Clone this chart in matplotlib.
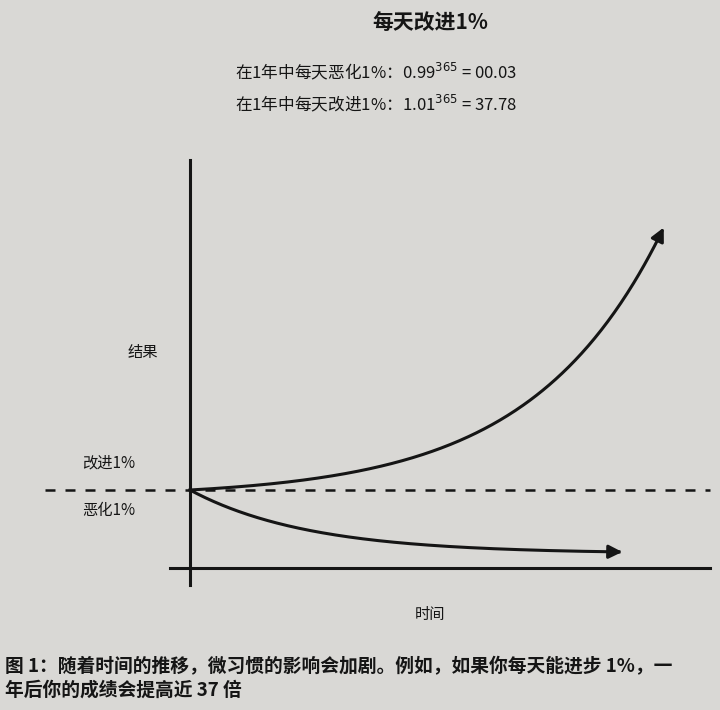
import numpy as np
import matplotlib
matplotlib.use("Agg")
import matplotlib.pyplot as plt

plt.rcParams['font.family'] = ['Noto Sans CJK SC', 'DejaVu Sans']

# 数据
days = np.arange(0, 366)
improve_rate = 1.01
decline_rate = 0.99
improve = improve_rate ** days   # 365天后 37.78
decline = decline_rate ** days   # 365天后 0.03

title = "每天改进1%"
line1 = "在1年中每天恶化1%：0.99$^{365}$ = 00.03"
line2 = "在1年中每天改进1%：1.01$^{365}$ = 37.78"
caption1 = "图 1：随着时间的推移，微习惯的影响会加剧。例如，如果你每天能进步 1%，一"
caption2 = "年后你的成绩会提高近 37 倍"

W, H = 720, 710
bg = "#d9d8d5"
ink = "#151515"
fig = plt.figure(figsize=(W / 100, H / 100), dpi=100, facecolor=bg)

# 底层：像素坐标，用于坐标轴线和文字
base = fig.add_axes([0, 0, 1, 1])
base.set_xlim(0, W)
base.set_ylim(H, 0)
base.axis("off")
base.set_facecolor(bg)

base.plot([190, 190], [160, 585], color=ink, lw=2.2)
base.plot([170, 710], [568, 568], color=ink, lw=2.2)
base.plot([45, 710], [490, 490], color=ink, lw=1.8, ls=(0, (4, 4)))

base.text(430, 22, title, ha="center", va="center", fontsize=15, fontweight="bold", color=ink)
base.text(235, 72, line1, ha="left", va="center", fontsize=12, color=ink)
base.text(235, 104, line2, ha="left", va="center", fontsize=12, color=ink)
base.text(128, 352, "结果", ha="left", va="center", fontsize=11, color=ink)
base.text(82, 463, "改进1%", ha="left", va="center", fontsize=11, color=ink)
base.text(82, 510, "恶化1%", ha="left", va="center", fontsize=11, color=ink)
base.text(430, 615, "时间", ha="center", va="center", fontsize=11, color=ink)
base.text(5, 667, caption1, ha="left", va="center", fontsize=13.5, fontweight="bold", color=ink)
base.text(5, 690, caption2, ha="left", va="center", fontsize=13.5, fontweight="bold", color=ink)

# 改进曲线
ax1 = fig.add_axes([190 / W, (H - 490) / H, 475 / W, 265 / H])
ax1.set_xlim(0, 365)
ax1.set_ylim(1, improve[-1])
ax1.axis("off")
ax1.patch.set_alpha(0)
ax1.plot(days[:-3], improve[:-3], color=ink, lw=2.2, clip_on=False)
ax1.annotate("", xy=(days[-1], improve[-1]), xytext=(days[-6], improve[-6]),
             arrowprops=dict(arrowstyle="-|>", color=ink, lw=2.2, mutation_scale=20),
             annotation_clip=False)

# 恶化曲线
ax2 = fig.add_axes([190 / W, (H - 552) / H, 435 / W, 62 / H])
ax2.set_xlim(0, 365)
ax2.set_ylim(decline[-1], 1)
ax2.axis("off")
ax2.patch.set_alpha(0)
ax2.plot(days[:-5], decline[:-5], color=ink, lw=2.2, clip_on=False)
ax2.annotate("", xy=(days[-1], decline[-1]), xytext=(days[-10], decline[-10]),
             arrowprops=dict(arrowstyle="-|>", color=ink, lw=2.2, mutation_scale=20),
             annotation_clip=False)

fig.savefig("out.png", dpi=100, facecolor=bg)
